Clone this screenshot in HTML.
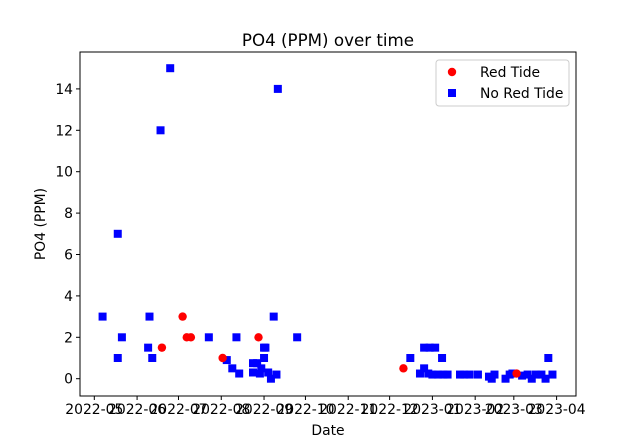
<!DOCTYPE html>
<html><head><meta charset="utf-8"><style>
body{margin:0;background:#fff;}
svg text{font-family:"DejaVu Sans","Liberation Sans",sans-serif;fill:#000;}
</style></head><body>
<svg id="chart" width="640" height="443" xmlns="http://www.w3.org/2000/svg">
<rect x="0" y="0" width="640" height="443" fill="#fff"/>
<g id="marks"></g>
<g id="axes"></g>
</svg>
<script>
const redDates=["2022-06-19","2022-07-04","2022-07-07","2022-07-10","2022-08-02","2022-08-28","2022-12-11","2023-03-03"];
const redValues=[1.5,3,2,2,1,2,0.5,0.25];
const blueDates=["2022-05-07","2022-05-18","2022-05-18","2022-05-21","2022-06-09","2022-06-10","2022-06-12","2022-06-18","2022-06-25","2022-07-23","2022-08-05","2022-08-09","2022-08-12","2022-08-14","2022-08-24","2022-08-27","2022-08-24","2022-08-29","2022-08-30","2022-09-01","2022-09-02","2022-09-01","2022-09-04","2022-09-06","2022-09-10","2022-09-08","2022-09-11","2022-09-25",
"2022-12-16","2022-12-23","2022-12-26","2022-12-26","2022-12-30","2023-01-03","2023-01-08","2022-12-29","2023-01-01","2023-01-05","2023-01-09","2023-01-12","2023-01-21","2023-01-24","2023-01-28","2023-02-03","2023-02-11","2023-02-13","2023-02-15","2023-02-23","2023-02-26","2023-02-28","2023-03-07","2023-03-11","2023-03-14","2023-03-17","2023-03-21","2023-03-24","2023-03-26","2023-03-29"];
const blueValues=[3,1,7,2,1.5,3,1,12,15,2,0.9,0.5,2,0.25,0.75,0.75,0.3,0.25,0.5,1.5,1.5,1,0.3,0,0.2,3,14,2,
1,0.25,0.5,1.5,1.5,1.5,1,0.25,0.2,0.2,0.2,0.2,0.2,0.2,0.2,0.2,0.1,0,0.2,0,0.2,0.25,0.15,0.2,0,0.2,0.2,0,1,0.2];
const xTickLabels=["2022-05","2022-06","2022-07","2022-08","2022-09","2022-10","2022-11","2022-12","2023-01","2023-02","2023-03","2023-04"];
const yTickLabels=[0,2,4,6,8,10,12,14];

const NS="http://www.w3.org/2000/svg";
const L=80,R=576,T=52,B=396;
const t0=Date.UTC(2022,4,1);
function xScale(d){const t=Date.parse(d+(d.length===7?"-01":"")+"T00:00:00Z");return 94.3+(t-t0)/86400000*1.38;}
function yScale(v){return 378.7-v*20.7;}
function mk(tag,attrs,parent){const e=document.createElementNS(NS,tag);for(const k in attrs)e.setAttribute(k,attrs[k]);parent.appendChild(e);return e;}
const marks=document.getElementById('marks'),axes=document.getElementById('axes');
blueDates.forEach((d,i)=>{
 const r=mk('rect',{x:xScale(d)-4,y:yScale(blueValues[i])-4,width:8,height:8,fill:'#0000ff'},marks);
 
 
});
redDates.forEach((d,i)=>{
 const c=mk('circle',{cx:xScale(d),cy:yScale(redValues[i]),r:4.2,fill:'#ff0000'},marks);
 
 
});
const frame=mk('rect',{x:L,y:T,width:R-L,height:B-T,fill:'none',stroke:'#000','stroke-width':1},axes);


xTickLabels.forEach(l=>{
 const x=xScale(l);
 mk('line',{x1:x,x2:x,y1:B,y2:B+4,stroke:'#000'},axes);
 const t=mk('text',{x:x,y:B+18,'text-anchor':'middle','font-size':13.9},axes);
 t.textContent=l;
 
 
});
yTickLabels.forEach(v=>{
 const y=yScale(v);
 mk('line',{x1:L-4,x2:L,y1:y,y2:y,stroke:'#000'},axes);
 const t=mk('text',{x:L-7,y:y+5,'text-anchor':'end','font-size':13.9},axes);
 t.textContent=v;
 
 
});
</script>
<svg style="position:absolute;left:0;top:0" width="640" height="443" xmlns="http://www.w3.org/2000/svg">
<text x="328" y="46" text-anchor="middle" font-size="16.7">PO4 (PPM) over time</text>
<text x="328" y="435" text-anchor="middle" font-size="13.9">Date</text>
<text x="45" y="224" text-anchor="middle" font-size="13.9" transform="rotate(-90 45 224)">PO4 (PPM)</text>
<g>
<rect x="436" y="60" width="133" height="46" rx="3" fill="#fff" fill-opacity="0.8" stroke="#ccc"/>
<circle cx="452" cy="72" r="4.2" fill="#ff0000"/>
<text x="480" y="77" font-size="13.9">Red Tide</text>
<rect x="448" y="89" width="8" height="8" fill="#0000ff"/>
<text x="480" y="98" font-size="13.9">No Red Tide</text>
</g>
</svg>
</body></html>
